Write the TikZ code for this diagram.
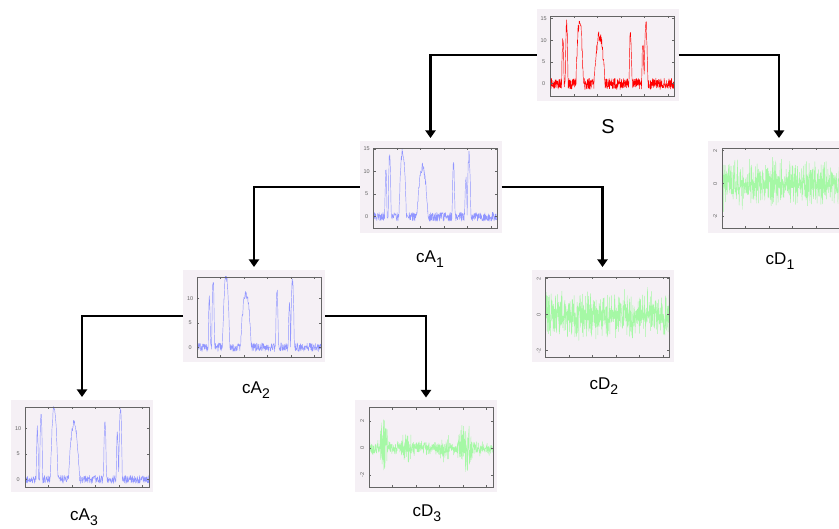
\documentclass[tikz,border=0pt]{standalone}
\usepackage{fontspec}
\setmainfont{Liberation Sans}
\usetikzlibrary{arrows.meta}
\definecolor{bgpink}{RGB}{245,240,245}
\definecolor{axgray}{RGB}{100,100,100}
\definecolor{sigred}{RGB}{255,0,0}
\definecolor{sigblue}{RGB}{145,150,255}
\definecolor{siggreen}{RGB}{165,248,165}
\newcommand\sbs[1]{\raisebox{-4.5pt}{\fontsize{14}{14}\selectfont #1}}
\tikzset{
  declare function={
    bmp(\xx,\cc,\ww)=max(0,1-((\xx-\cc)/\ww)^2);
    asig(\xx)=10*bmp(\xx,0.10,0.01)+13.5*bmp(\xx,0.13,0.012)+14.5*bmp(\xx,0.235,0.03)
      +11*bmp(\xx,0.395,0.045)+11.5*bmp(\xx,0.645,0.012)+9*bmp(\xx,0.745,0.01)
      +13.5*bmp(\xx,0.77,0.015);
    gn(\xx)=(rand+rand+rand)*0.6;
    env(\xx)=0.45+2.2*bmp(\xx,0.12,0.035)+0.8*bmp(\xx,0.30,0.05)+1.5*bmp(\xx,0.78,0.07)+0.6*bmp(\xx,0.62,0.05);
  },
  panelbg/.style={fill=bgpink, draw=none, minimum width=142pt, minimum height=92pt, inner sep=0pt, outer sep=0pt},
  axframe/.style={draw=axgray, line width=0.7pt},
  ticklab/.style={font=\fontsize{5.5}{6}\selectfont, text=axgray, inner sep=0pt},
  lab/.style={font=\fontsize{17}{17}\selectfont, anchor=base, inner sep=0pt},
  conn/.style={line width=2.8pt, -{Triangle[width=10pt,length=7.5pt]}, shorten >=3pt},
  sig/.style={line width=0.45pt, line join=round},
  axesat/.style 2 args={shift={(#1-57,#2+41)}, x=124pt, y=80pt},
}
\newcommand\sigaxes[5]{%
  \draw[axframe] (0,0) rectangle (1,1);
  \foreach \tk in {0.19,0.38,0.57,0.76,0.95}{\draw[axframe] (\tk,0)--++(0,0.03) (\tk,1)--++(0,-0.03);}
  \foreach \vv [count=\ii] in {#4}{%
    \pgfmathsetmacro\nv{(\vv-(#2))/((#3)-(#2))}
    \draw[axframe] (0,\nv)--++(0.018,0) (1,\nv)--++(-0.018,0);
    \node[ticklab,rotate=#5] (#1t\ii) at (-0.055,\nv) {\vv};
  }%
}
\begin{document}
\begin{tikzpicture}[x=1pt,y=-1pt]
\pgfmathsetseed{4217}
\fill[white] (0,0) rectangle (839,529);
\useasboundingbox (0,0) rectangle (839,529);

% S
\node[panelbg] (S) at (607.5,55) {};
\begin{scope}[axesat={607.5}{55}]
  \begin{scope}\clip (0,0) rectangle (1,1);
    \draw[sig,sigred] plot[domain=0:1,samples=520] (\x,{(asig(\x)+1.3*rand+2.8)/18.4});
  \end{scope}
  \sigaxes{S}{-2.8}{15.6}{0,5,10,15}{0}
\end{scope}

% cA1
\node[panelbg] (cA1) at (430.5,187) {};
\begin{scope}[axesat={430.5}{187}]
  \begin{scope}\clip (0,0) rectangle (1,1);
    \draw[sig,sigblue] plot[domain=0:1,samples=480] (\x,{(asig(\x)+1.0*rand+2.5)/17.7});
  \end{scope}
  \sigaxes{cA1}{-2.5}{15.2}{0,5,10,15}{0}
\end{scope}

% cD1
\node[panelbg] (cD1) at (779,187) {};
\begin{scope}[axesat={779}{187}]
  \begin{scope}\clip (0,0) rectangle (1,1);
    \draw[sig,siggreen] plot[domain=0:1,samples=650] (\x,{(gn(\x)+2.7)/4.86});
  \end{scope}
  \sigaxes{cD1}{-2.7}{2.16}{-2,0,2}{90}
\end{scope}

% cA2
\node[panelbg] (cA2) at (254,316) {};
\begin{scope}[axesat={254}{316}]
  \begin{scope}\clip (0,0) rectangle (1,1);
    \draw[sig,sigblue] plot[domain=0:1,samples=420] (\x,{(asig(\x)+0.9*rand+2)/16.4});
  \end{scope}
  \sigaxes{cA2}{-2}{14.4}{0,5,10}{0}
\end{scope}

% cD2
\node[panelbg] (cD2) at (602.5,316) {};
\begin{scope}[axesat={602.5}{316}]
  \begin{scope}\clip (0,0) rectangle (1,1);
    \draw[sig,siggreen] plot[domain=0:1,samples=650] (\x,{(gn(\x)+2.35)/4.45});
  \end{scope}
  \sigaxes{cD2}{-2.35}{2.1}{-2,0,2}{90}
\end{scope}

% cA3
\node[panelbg] (cA3) at (82,446) {};
\begin{scope}[axesat={82}{446}]
  \begin{scope}\clip (0,0) rectangle (1,1);
    \draw[sig,sigblue] plot[domain=0:1,samples=380] (\x,{(asig(\x)+0.8*rand+1.5)/15.8});
  \end{scope}
  \sigaxes{cA3}{-1.5}{14.3}{0,5,10}{0}
\end{scope}

% cD3
\node[panelbg] (cD3) at (426,446.5) {};
\begin{scope}[axesat={426}{446.5}]
  \begin{scope}\clip (0,0) rectangle (1,1);
    \draw[sig,siggreen] plot[domain=0:1,samples=650] (\x,{(env(\x)*(rand+rand+rand)/2+2.9)/5.9});
  \end{scope}
  \sigaxes{cD3}{-2.9}{3.0}{-2,0,2}{90}
\end{scope}

% labels
\node[lab,font=\fontsize{20}{20}\selectfont] (Slab) at (608,134) {S};
\node[lab] (cA1lab) at (430,263) {cA\sbs{1}};
\node[lab] (cD1lab) at (780,265) {cD\sbs{1}};
\node[lab] (cA2lab) at (256,394) {cA\sbs{2}};
\node[lab] (cD2lab) at (604,390) {cD\sbs{2}};
\node[lab] (cA3lab) at (84,521) {cA\sbs{3}};
\node[lab] (cD3lab) at (427,517) {cD\sbs{3}};

% connectors
\draw[conn] (S.west) -| (cA1.north);
\draw[conn] (S.east) -| (cD1.north);
\draw[conn] (cA1.west) -| (cA2.north);
\draw[conn] (cA1.east) -| (cD2.north);
\draw[conn] (cA2.west) -| (cA3.north);
\draw[conn] (cA2.east) -| (cD3.north);
\end{tikzpicture}
\end{document}
